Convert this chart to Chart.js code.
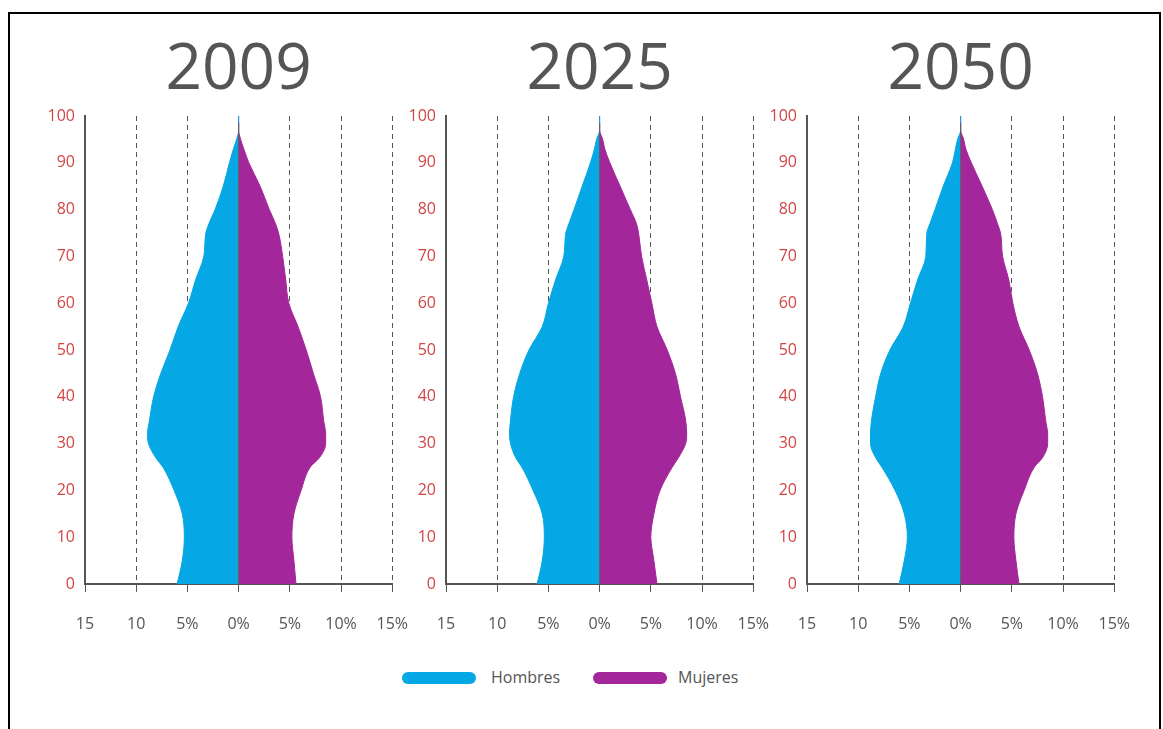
<!DOCTYPE html>
<html>
<head>
<meta charset="utf-8">
<script src="https://cdn.jsdelivr.net/npm/chart.js@4.4.1/dist/chart.umd.min.js"></script>
<style>
    body { margin: 0; background: #fff; width: 1163px; height: 729px; overflow: hidden; position: relative; }
    .frame { position: absolute; left: 8px; top: 12px; width: 1153px; height: 800px; border: 2px solid #000; box-sizing: border-box; }
    canvas.pyr { position: absolute; top: 0; }
    .swatch { position: absolute; top: 672px; width: 74px; height: 12px; border-radius: 6px; }
    .lbl { position: absolute; top: 667px; line-height: 20px; font-family: 'Open Sans', sans-serif; font-size: 16px; color: #555; }
</style>
</head>
<body>
<div class="frame"></div>
<canvas id="pyr2009" class="pyr" width="411" height="650" style="left:20px"></canvas>
<canvas id="pyr2025" class="pyr" width="411" height="650" style="left:381px"></canvas>
<canvas id="pyr2050" class="pyr" width="411" height="650" style="left:742px"></canvas>
<div id="legend"></div>

<script>
// edades (eje vertical)
const ages = [0, 5, 10, 15, 20, 25, 27, 30, 32, 35, 40, 45, 50, 55, 60, 65, 70, 75, 77, 80, 85, 90, 93, 95, 97, 100];

// % de poblacion por edad
const hombres2009 = [6.0, 5.5, 5.3, 5.5, 6.3, 7.4, 8.1, 8.8, 8.9, 8.7, 8.3, 7.6, 6.7, 5.9, 4.9, 4.2, 3.4, 3.2, 2.9, 2.3, 1.5, 0.9, 0.5, 0.2, 0, 0];
const mujeres2009 = [5.6, 5.4, 5.2, 5.4, 6.1, 7.0, 7.9, 8.5, 8.5, 8.3, 8.0, 7.3, 6.6, 5.8, 4.9, 4.6, 4.3, 3.9, 3.6, 3.0, 2.1, 1.0, 0.5, 0.2, 0, 0];

const hombres2025 = [6.1, 5.6, 5.4, 5.6, 6.5, 7.6, 8.2, 8.7, 8.8, 8.7, 8.4, 7.8, 6.9, 5.6, 5.0, 4.3, 3.5, 3.3, 3.0, 2.5, 1.7, 0.9, 0.5, 0.3, 0, 0];
const mujeres2025 = [5.6, 5.3, 5.0, 5.3, 5.9, 7.1, 7.7, 8.4, 8.5, 8.4, 7.9, 7.4, 6.6, 5.6, 5.1, 4.6, 4.1, 3.8, 3.6, 3.0, 2.0, 1.0, 0.5, 0.3, 0, 0];

const hombres2050 = [6.0, 5.5, 5.2, 5.5, 6.4, 7.7, 8.3, 8.8, 8.8, 8.7, 8.3, 7.8, 6.9, 5.6, 4.9, 4.2, 3.4, 3.3, 3.0, 2.5, 1.7, 0.8, 0.5, 0.3, 0, 0];
const mujeres2050 = [5.7, 5.4, 5.2, 5.4, 6.2, 7.2, 8.0, 8.5, 8.5, 8.3, 8.0, 7.5, 6.7, 5.7, 5.1, 4.7, 4.1, 3.9, 3.6, 3.1, 2.1, 1.05, 0.5, 0.3, 0, 0];

// eje x: -15 .. 15, etiquetas tal como aparecen
const xTicks = [-15, -10, -5, 0, 5, 10, 15];
const xTickLabels = ['15', '10', '5%', '0%', '5%', '10%', '15%'];

// linea central (0%) hasta la punta
const centerLine = [0, 98.5];

const seriesNames = ['Hombres', 'Mujeres'];
const seriesColors = ['#05a8e4', '#a3279b'];

const tickFont = { family: "'Open Sans', sans-serif", size: 16 };

function makePyramid(canvasId, year, hombres, mujeres) {
    const ctx = document.getElementById(canvasId).getContext('2d');
    return new Chart(ctx, {
        type: 'line',
        data: {
            datasets: [
                {
                    label: seriesNames[0],
                    data: ages.map((a, i) => ({ x: -hombres[i], y: a })),
                    backgroundColor: seriesColors[0],
                    borderColor: seriesColors[0],
                    borderWidth: 1,
                    fill: 'origin',
                    pointRadius: 0,
                    cubicInterpolationMode: 'monotone'
                },
                {
                    label: seriesNames[1],
                    data: ages.map((a, i) => ({ x: mujeres[i], y: a })),
                    backgroundColor: seriesColors[1],
                    borderColor: seriesColors[1],
                    borderWidth: 1,
                    fill: 'origin',
                    pointRadius: 0,
                    cubicInterpolationMode: 'monotone'
                },
                {
                    label: 'centro',
                    data: centerLine.map(a => ({ x: 0, y: a })),
                    borderColor: '#6a5a6a',
                    borderWidth: 1.2,
                    fill: false,
                    pointRadius: 0,
                    order: -1
                }
            ]
        },
        options: {
            responsive: false,
            animation: false,
            indexAxis: 'y',
            layout: {
                padding: { left: 0, right: 0, top: 0, bottom: 0 }
            },
            plugins: {
                legend: { display: false },
                tooltip: { enabled: false },
                title: {
                    display: true,
                    text: year,
                    fullSize: false,
                    color: '#555',
                    font: { family: "'Open Sans', sans-serif", size: 64, weight: 'normal', lineHeight: 1.2 },
                    padding: { top: 32, bottom: 7.2 }
                }
            },
            scales: {
                x: {
                    type: 'linear',
                    min: -15,
                    max: 15,
                    afterBuildTicks: (scale) => {
                        scale.ticks = xTicks.map(v => ({ value: v }));
                    },
                    afterFit: (scale) => { scale.height = 66; },
                    ticks: {
                        color: '#555',
                        font: tickFont,
                        padding: 23,
                        maxRotation: 0,
                        callback: (value) => xTickLabels[xTicks.indexOf(value)]
                    },
                    grid: {
                        color: (c) => c.tick && c.tick.value === 0 ? 'rgba(0,0,0,0)' : '#555',
                        lineWidth: 1,
                        tickLength: 8,
                        tickColor: '#555',
                        tickWidth: 1
                    },
                    // discontinuas
                    border: { display: true, color: '#555', width: 2, dash: [5, 4] }
                },
                y: {
                    type: 'linear',
                    min: 0,
                    max: 100,
                    afterFit: (scale) => { scale.width = 65; },
                    ticks: {
                        stepSize: 10,
                        color: '#d24545',
                        font: tickFont,
                        padding: 10
                    },
                    grid: { display: false, drawTicks: false },
                    border: { display: true, color: '#555', width: 2 }
                }
            }
        }
    });
}

const chart2009 = makePyramid('pyr2009', '2009', hombres2009, mujeres2009);
const chart2025 = makePyramid('pyr2025', '2025', hombres2025, mujeres2025);
const chart2050 = makePyramid('pyr2050', '2050', hombres2050, mujeres2050);

// leyenda
const legend = document.getElementById('legend');
const swatchLeft = [402, 593];
const labelLeft = [491, 678];
seriesNames.forEach((name, i) => {
    const sw = document.createElement('div');
    sw.className = 'swatch';
    sw.style.left = swatchLeft[i] + 'px';
    sw.style.background = seriesColors[i];
    legend.appendChild(sw);
    const lb = document.createElement('div');
    lb.className = 'lbl';
    lb.style.left = labelLeft[i] + 'px';
    lb.textContent = name;
    legend.appendChild(lb);
});
</script>
</body>
</html>
